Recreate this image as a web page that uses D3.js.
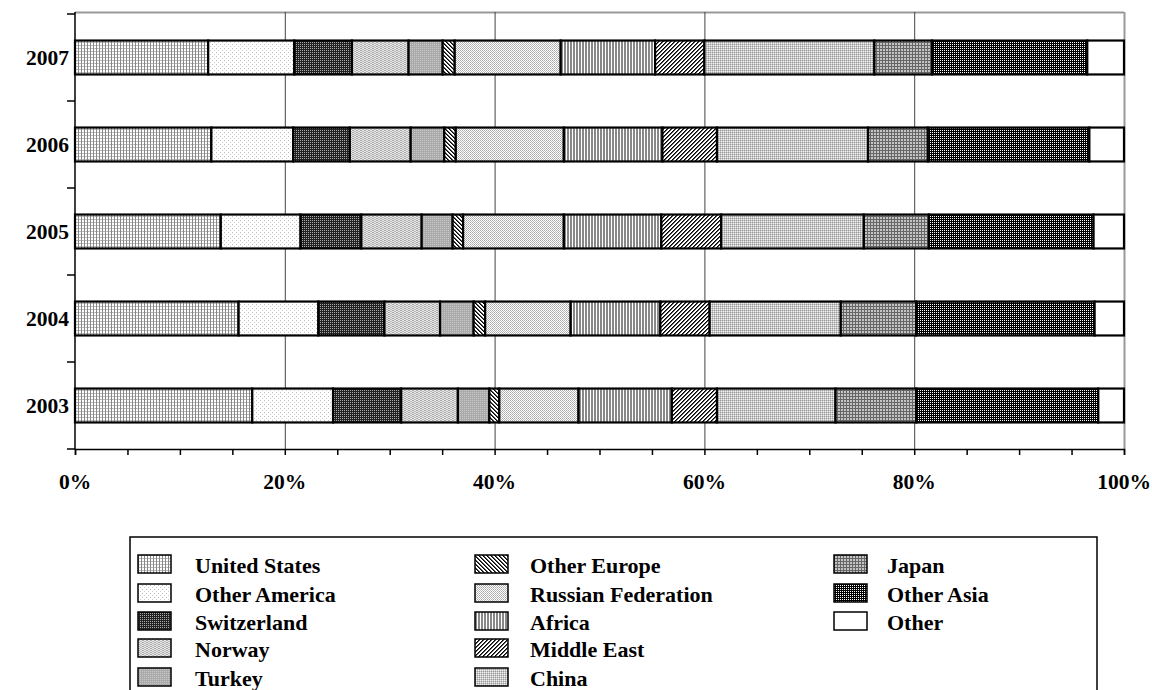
<!DOCTYPE html>
<html>
<head>
<meta charset="utf-8">
<script src="https://cdn.jsdelivr.net/npm/d3@7"></script>
<style>
  html, body { margin: 0; padding: 0; background: #fff; }
  svg { display: block; }
  text { font-family: "Liberation Serif", "Times New Roman", serif; font-weight: bold; fill: #000; }
</style>
</head>
<body>
<svg id="chart" width="1152" height="690"></svg>
<script>
// Years shown on the category axis (bottom to top)
const years = ["2003", "2004", "2005", "2006", "2007"];

// Share of total (%) per region, one value per year 2003..2007
const unitedStates      = [16.9, 15.6, 13.9, 13.0, 12.7];
const otherAmerica      = [7.7, 7.6, 7.6, 7.8, 8.2];
const switzerland       = [6.5, 6.3, 5.8, 5.4, 5.5];
const norway            = [5.4, 5.3, 5.75, 5.8, 5.4];
const turkey            = [3.0, 3.2, 2.95, 3.2, 3.25];
const otherEurope       = [0.95, 1.1, 1.0, 1.1, 1.15];
const russianFederation = [7.55, 8.15, 9.6, 10.3, 10.1];
const africa            = [8.9, 8.55, 9.3, 9.4, 9.0];
const middleEast        = [4.3, 4.7, 5.7, 5.2, 4.7];
const china             = [11.3, 12.5, 13.6, 14.4, 16.2];
const japan             = [7.7, 7.2, 6.2, 5.7, 5.5];
const otherAsia         = [17.35, 17.0, 15.7, 15.4, 14.8];
const other             = [2.45, 2.8, 2.9, 3.3, 3.5];

const seriesNames = ["United States", "Other America", "Switzerland", "Norway", "Turkey",
  "Other Europe", "Russian Federation", "Africa", "Middle East", "China",
  "Japan", "Other Asia", "Other"];
const seriesValues = [unitedStates, otherAmerica, switzerland, norway, turkey,
  otherEurope, russianFederation, africa, middleEast, china,
  japan, otherAsia, other];

const xTicks = [0, 5, 10, 15, 20, 25, 30, 35, 40, 45, 50, 55, 60, 65, 70, 75, 80, 85, 90, 95, 100];
const xLabels = [0, 20, 40, 60, 80, 100];

const svg = d3.select("#chart");
const defs = svg.append("defs");

// Monochrome fill patterns, one per region
function pat(id, w, h, bg, draw) {
  const p = defs.append("pattern").attr("id", id).attr("patternUnits", "userSpaceOnUse")
    .attr("width", w).attr("height", h);
  p.append("rect").attr("width", w).attr("height", h).attr("fill", bg);
  draw(p);
}
function px(p, x, y, c, w = 1, h = 1) {
  p.append("rect").attr("x", x).attr("y", y).attr("width", w).attr("height", h).attr("fill", c);
}
pat("p0", 3, 3, "#fff", p => { px(p, 0, 0, "#888", 1, 3); px(p, 1, 0, "#bbb", 2, 1); });
pat("p1", 4, 4, "#fff", p => { px(p, 0, 0, "#bbb"); px(p, 2, 2, "#ccc"); });
pat("p2", 2, 2, "#222", p => { px(p, 0, 0, "#aaa"); });
pat("p3", 4, 2, "#e6e6e6", p => { px(p, 0, 0, "#aaa", 2, 1); px(p, 2, 1, "#bbb", 2, 1); });
pat("p4", 2, 2, "#aaa", p => { px(p, 0, 0, "#c8c8c8"); });
pat("p5", 4, 4, "#fff", p => { for (let i = 0; i < 4; i++) { px(p, i, i, "#000"); px(p, (i + 1) % 4, i, "#555"); } });
pat("p6", 2, 2, "#fff", p => { px(p, 0, 0, "#aaa"); px(p, 1, 1, "#bbb"); });
pat("p7", 3, 1, "#fff", p => { px(p, 0, 0, "#888", 2, 1); });
pat("p8", 4, 4, "#fff", p => { for (let i = 0; i < 4; i++) { px(p, 3 - i, i, "#000"); px(p, (4 - i) % 4, i, "#555"); } });
pat("p9", 2, 2, "#c8c8c8", p => { px(p, 0, 0, "#999"); px(p, 1, 1, "#eee"); });
pat("p10", 3, 3, "#c4c4c4", p => { px(p, 0, 0, "#666", 3, 1); px(p, 0, 0, "#666", 1, 3); });
pat("p11", 2, 2, "#000", p => { px(p, 0, 0, "#fff"); });
pat("p12", 2, 2, "#fff", () => {});

const plotLeft = 75, plotRight = 1124, plotTop = 14, plotBottom = 449;

const x = d3.scaleLinear().domain([0, 100]).range([plotLeft, plotRight]);
const y = d3.scaleBand().domain(years.slice().reverse()).range([plotTop, plotBottom])
  .paddingInner(0.61).paddingOuter(0.305);

// Plot frame (top and right) in grey
svg.append("line").attr("x1", plotLeft).attr("x2", plotRight).attr("y1", plotTop - 1.5).attr("y2", plotTop - 1.5)
  .attr("stroke", "#999").attr("stroke-width", 2);
svg.append("line").attr("x1", plotRight + 0.5).attr("x2", plotRight + 0.5).attr("y1", plotTop - 2).attr("y2", plotBottom)
  .attr("stroke", "#999").attr("stroke-width", 2);

// Vertical gridlines
svg.append("g").selectAll("line").data([20, 40, 60, 80]).join("line")
  .attr("x1", d => x(d) + 0.5).attr("x2", d => x(d) + 0.5)
  .attr("y1", plotTop - 2).attr("y2", plotBottom)
  .attr("stroke", "#444").attr("stroke-width", 1);

// Stacked bars
const table = years.map((yr, i) => {
  const row = { year: yr };
  const total = d3.sum(seriesValues, s => s[i]);
  seriesNames.forEach((n, k) => row[n] = seriesValues[k][i] / total * 100);
  return row;
});
const stacked = d3.stack().keys(seriesNames)(table);

const layers = svg.append("g").selectAll("g").data(stacked).join("g")
  .attr("fill", (d, k) => `url(#p${k})`);
layers.selectAll("rect").data(d => d).join("rect")
  .attr("x", d => x(d[0]))
  .attr("width", d => x(d[1]) - x(d[0]))
  .attr("y", d => y(d.data.year))
  .attr("height", y.bandwidth())
  .attr("stroke", "#000").attr("stroke-width", 2.2);

// Y axis line with ticks between categories
const step = y.step();
const yTickPos = years.map(yr => y(yr) + y.bandwidth() / 2 - step / 2)
  .concat([y(years[0]) + y.bandwidth() / 2 + step / 2]);
svg.append("line").attr("x1", plotLeft).attr("x2", plotLeft).attr("y1", plotTop - 2).attr("y2", plotBottom)
  .attr("stroke", "#000").attr("stroke-width", 1.5);
svg.append("g").selectAll("line").data(yTickPos).join("line")
  .attr("x1", plotLeft - 8).attr("x2", plotLeft).attr("y1", d => d).attr("y2", d => d)
  .attr("stroke", "#000").attr("stroke-width", 1.5);

svg.append("g").selectAll("text").data(years).join("text")
  .attr("x", plotLeft - 6).attr("y", d => y(d) + y.bandwidth() / 2)
  .attr("text-anchor", "end").attr("dominant-baseline", "central")
  .style("font-size", "21.5px").text(d => d);

// X axis
const xAxis = d3.axisBottom(x).tickValues(xTicks).tickSize(6).tickFormat("");
const gx = svg.append("g").attr("transform", `translate(0,${plotBottom})`).call(xAxis);
gx.select(".domain").attr("stroke", "#000").attr("stroke-width", 1.5);
gx.selectAll(".tick line").attr("stroke", "#000").attr("stroke-width", 1.5);

svg.append("g").selectAll("text").data(xLabels).join("text")
  .attr("x", d => x(d)).attr("y", 489)
  .attr("text-anchor", "middle")
  .style("font-size", "21.5px").text(d => d + "%");

// Legend
const lg = svg.append("g");
lg.append("rect").attr("x", 130).attr("y", 537).attr("width", 967).attr("height", 160)
  .attr("fill", "none").attr("stroke", "#000").attr("stroke-width", 1.5);
const colX = [138, 475, 834];
const rowY = [564, 593, 621, 648, 677];
const items = lg.selectAll("g").data(seriesNames).join("g")
  .attr("transform", (d, k) => `translate(${colX[Math.floor(k / 5)]},${rowY[k % 5]})`);
items.append("rect").attr("x", 0).attr("y", -9).attr("width", 33).attr("height", 18)
  .attr("fill", (d, k) => `url(#p${k})`).attr("stroke", "#000").attr("stroke-width", 1.5);
items.append("text").attr("x", (d, k) => k < 5 ? 57 : (k < 10 ? 55 : 53)).attr("y", 1)
  .attr("dominant-baseline", "central")
  .style("font-size", "22px").text(d => d);
</script>
</body>
</html>
